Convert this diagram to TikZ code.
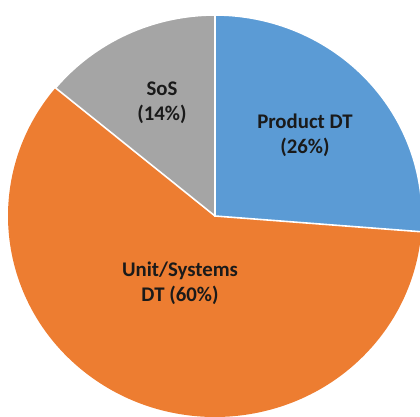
\documentclass[tikz,border=0pt]{standalone}
\usepackage{fontspec}
\setmainfont{Carlito}
\definecolor{pieblue}{HTML}{5B9BD5}
\definecolor{pieorange}{HTML}{ED7D31}
\definecolor{piegray}{HTML}{A5A5A5}
\definecolor{labeltext}{HTML}{1A1A1A}
\begin{document}
\begin{tikzpicture}[x=1pt,y=1pt,
  slice/.style={draw=white,line width=1.6pt,line join=miter},
  lbl/.style={inner sep=0pt,align=center,text=labeltext,
    font=\fontsize{20.8}{25}\selectfont\bfseries}]
\useasboundingbox (0,0) rectangle (420,416);
\clip (0,0) rectangle (420,416);
\coordinate (c) at (215,200);
\def\rx{207}\def\ry{201}
% Unit/Systems DT (60%)
\fill[pieorange] ([shift={(c)}]140.4:\rx pt and \ry pt) arc[start angle=140.4,end angle=355.5,x radius=\rx pt,y radius=\ry pt] -- (c) -- cycle;
% Product DT (26%)
\fill[pieblue] ([shift={(c)}]90:\rx pt and \ry pt) arc[start angle=90,end angle=-4.5,x radius=\rx pt,y radius=\ry pt] -- (c) -- cycle;
% SoS (14%)
\fill[piegray] ([shift={(c)}]90:\rx pt and \ry pt) arc[start angle=90,end angle=140.4,x radius=\rx pt,y radius=\ry pt] -- (c) -- cycle;
% separators
\coordinate (t1) at ([shift={(c)}]90:\rx pt and \ry pt);
\coordinate (t2) at ([shift={(c)}]-4.5:\rx pt and \ry pt);
\coordinate (t3) at ([shift={(c)}]140.4:\rx pt and \ry pt);
\draw[slice] (t1) -- (c) -- (t2);
\draw[slice] (c) -- (t3);
\draw[slice] (t3) arc[start angle=140.4,end angle=90,x radius=\rx pt,y radius=\ry pt] arc[start angle=90,end angle=-4.5,x radius=\rx pt,y radius=\ry pt];
% labels
\node[lbl] (prod) at (305,280.5) {Product DT\\(26\%)};
\node[lbl] (unit) at (180,132.5) {Unit/Systems\\DT (60\%)};
\node[lbl] (sos) at (162,313) {SoS\\(14\%)};
\end{tikzpicture}
\end{document}
